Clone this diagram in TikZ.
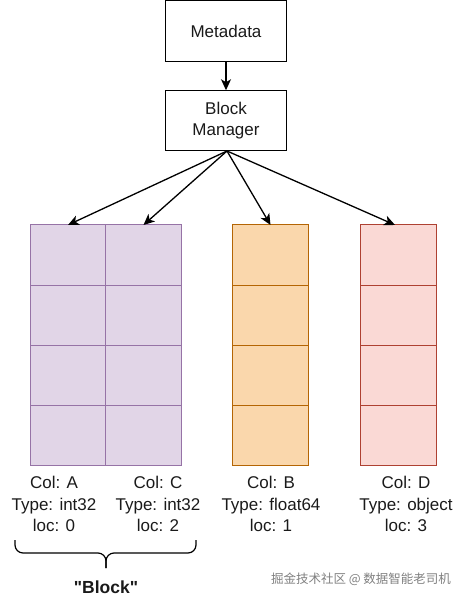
\documentclass[tikz,border=0pt]{standalone}
\usepackage{fontspec}
\setmainfont{Liberation Sans}
\newfontfamily\cjkfont{Noto Sans CJK SC}
\usetikzlibrary{arrows.meta}
\definecolor{purpF}{HTML}{E1D5E7}
\definecolor{purpD}{HTML}{9673A6}
\definecolor{oranF}{HTML}{FAD7AC}
\definecolor{oranD}{HTML}{B46504}
\definecolor{redF}{HTML}{FAD9D5}
\definecolor{redD}{HTML}{AE4132}
\definecolor{txt}{HTML}{1A1A1A}
\tikzset{
  box/.style={draw=black, line width=1.2pt, fill=white, minimum width=121pt, minimum height=60.5pt, inner sep=0pt, outer sep=0pt, align=center, text=txt, font=\fontsize{17}{21}\selectfont},
  cell/.style={minimum width=75.5pt, minimum height=60.25pt, inner sep=0pt, outer sep=0pt, line width=1pt},
  cellP/.style={cell, draw=purpD, fill=purpF},
  cellO/.style={cell, draw=oranD, fill=oranF},
  cellR/.style={cell, draw=redD, fill=redF},
  lbl/.style={align=center, text=txt, inner sep=0pt, font=\fontsize{17}{21.5}\selectfont},
  arr/.style={draw=black, line width=1.3pt, -{Stealth[length=11pt, width=10pt, inset=3pt]}},
  bracel/.style={draw=black, line width=1.2pt, rounded corners=8pt},
}
\begin{document}
\begin{tikzpicture}[x=1pt,y=-1pt]
\useasboundingbox (0,0) rectangle (467,602);
\node[box] (meta) at (226,31) {Metadata};
\node[box] (bm) at (226,120.5) {Block\\Manager};
\foreach \r in {0,1,2,3}{
  \node[cellP] (a\r) at (68,255.1+60.25*\r) {};
  \node[cellP] (c\r) at (143.5,255.1+60.25*\r) {};
  \node[cellO] (b\r) at (270.5,255.1+60.25*\r) {};
  \node[cellR] (d\r) at (398.5,255.1+60.25*\r) {};
}
\draw[arr] (meta.south) -- (bm.north);
\coordinate (bmS) at (227,151);
\draw[arr] (bmS) -- (a0.north);
\draw[arr] (bmS) -- (c0.north);
\draw[arr] (bmS) -- (b0.north);
\draw[arr] (bmS) -- (d0.north -| 395,0);
\node[lbl] (la) at (54,504) {Col: A\\Type: int32\\loc: 0};
\node[lbl] (lc) at (158,504) {Col: C\\Type: int32\\loc: 2};
\node[lbl] (lb) at (271,504) {Col: B\\Type: float64\\loc: 1};
\node[lbl] (ld) at (406,504) {Col: D\\Type: object\\loc: 3};
\draw[bracel] (15,540) -- (15,553) -- (106,553) -- (106,568);
\draw[bracel] (196,540) -- (196,553) -- (106,553) -- (106,568);
\node[lbl, font=\fontsize{17.5}{21}\selectfont\bfseries] (blk) at (106,587) {\textquotedbl Block\textquotedbl};
\node[text=black!50, inner sep=0pt, font=\cjkfont\fontsize{12.5}{15}\selectfont] (wm) at (361,579) {掘金技术社区 @ 数据智能老司机};
\end{tikzpicture}
\end{document}
